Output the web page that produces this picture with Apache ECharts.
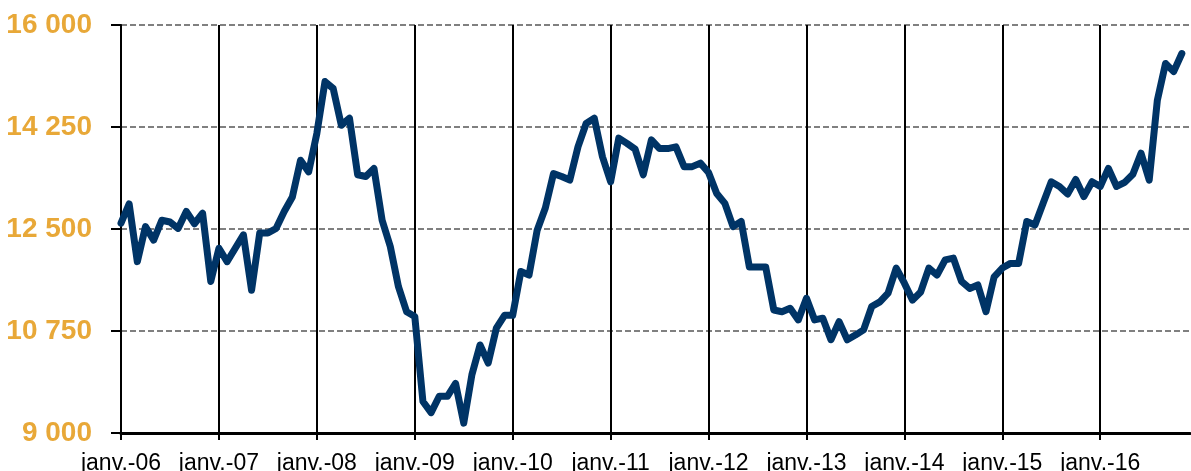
<!DOCTYPE html>
<html>
<head>
<meta charset="utf-8">
<script src="https://cdn.jsdelivr.net/npm/echarts@6/dist/echarts.min.js"></script>
<style>
  html, body { margin: 0; padding: 0; background: #fff; }
  #chart { width: 1191px; height: 471px; }
</style>
</head>
<body>
<div id="chart"></div>
<script>
// années affichées sur l'axe, une étiquette par janvier
var years = ['06', '07', '08', '09', '10', '11', '12', '13', '14', '15', '16'];
var monthNames = ['janv.', 'févr.', 'mars', 'avr.', 'mai', 'juin', 'juil.', 'août', 'sept.', 'oct.', 'nov.', 'déc.'];

// valeurs mensuelles, janv.-06 -> nov.-16
var v2006 = [12600, 12930, 11940, 12540, 12310, 12650, 12620, 12510, 12800, 12590, 12770, 11600];
var v2007 = [12170, 11940, 12170, 12400, 11450, 12430, 12430, 12510, 12800, 13050, 13680, 13480];
var v2008 = [14140, 15030, 14910, 14280, 14400, 13430, 13400, 13540, 12650, 12200, 11510, 11080];
var v2009 = [11000, 9540, 9350, 9630, 9630, 9850, 9170, 10000, 10510, 10200, 10800, 11020];
var v2010 = [11020, 11770, 11710, 12480, 12860, 13450, 13400, 13340, 13910, 14310, 14400, 13740];
var v2011 = [13310, 14060, 13970, 13870, 13430, 14030, 13880, 13880, 13910, 13570, 13570, 13630];
var v2012 = [13470, 13110, 12940, 12540, 12630, 11850, 11850, 11850, 11110, 11080, 11140, 10940];
var v2013 = [11310, 10940, 10970, 10600, 10910, 10600, 10680, 10770, 11170, 11250, 11400, 11830];
var v2014 = [11570, 11280, 11420, 11830, 11710, 11970, 12000, 11600, 11480, 11540, 11080, 11680];
var v2015 = [11830, 11910, 11910, 12630, 12570, 12940, 13310, 13230, 13100, 13350, 13055, 13310];
var v2016 = [13230, 13540, 13230, 13300, 13440, 13800, 13340, 14710, 15340, 15200, 15510];

var values = [].concat(v2006, v2007, v2008, v2009, v2010, v2011, v2012, v2013, v2014, v2015, v2016);

var months = [];
years.forEach(function (y) {
  monthNames.forEach(function (m) { months.push(m + '-' + y); });
});

var fontFam = '"Liberation Sans", Arial, sans-serif';

function fmtSpace(v) {
  return String(v).replace(/\B(?=(\d{3})+(?!\d))/g, ' ');
}

var myChart = echarts.init(document.getElementById('chart'));
var option = {
  animation: false,
  grid: {left: 121, right: 1, top: 25, bottom: 38, containLabel: false, outerBoundsMode: 'none'},
  xAxis: {
    type: 'category',
    boundaryGap: false,
    data: months,
    axisLine: {lineStyle: {color: '#000', width: 3}},
    axisTick: {show: true, interval: 11, length: 7, lineStyle: {color: '#000', width: 2}},
    axisLabel: {
      interval: 11,
      margin: 19,
      color: '#000',
      fontSize: 23,
      fontFamily: fontFam
    },
    splitLine: {show: true, interval: 11, lineStyle: {color: '#000', width: 2}}
  },
  yAxis: {
    type: 'value',
    min: 9000,
    max: 16000,
    interval: 1750,
    axisLine: {show: true, lineStyle: {color: '#000', width: 2}},
    axisTick: {show: true, length: 10, lineStyle: {color: '#000', width: 2}},
    axisLabel: {
      margin: 29,
      color: '#E8A838',
      fontSize: 28,
      fontWeight: 'bold',
      fontFamily: fontFam,
      formatter: fmtSpace
    },
    splitLine: {show: true, lineStyle: {color: '#808080', width: 2, type: [6, 3]}}
  },
  series: [{
    type: 'line',
    data: values,
    symbol: 'none',
    smooth: false,
    lineStyle: {color: '#003466', width: 7, cap: 'round', join: 'round'}
  }]
};
myChart.setOption(option);
</script>
</body>
</html>
